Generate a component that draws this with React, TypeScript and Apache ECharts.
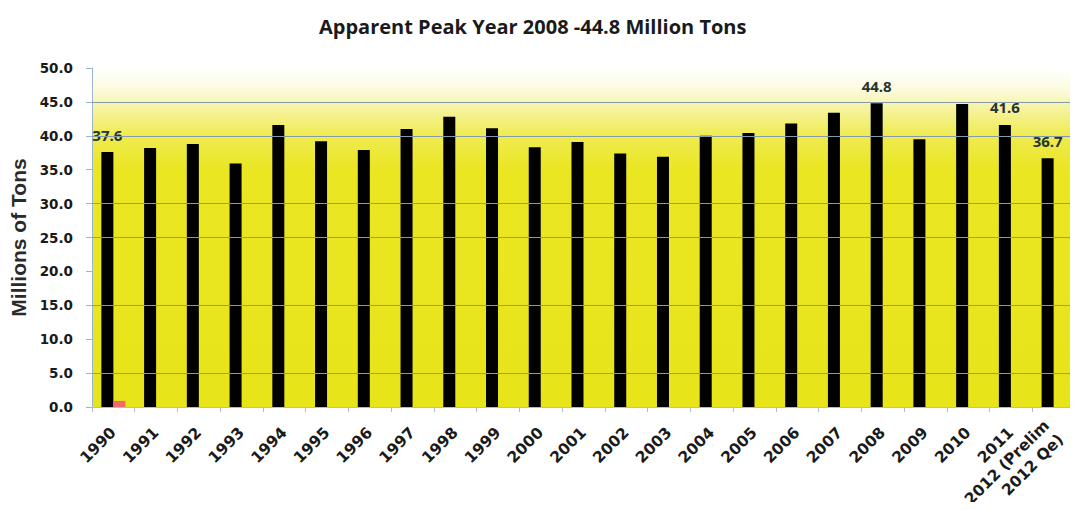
import React, { useEffect, useRef } from "react";
import * as echarts from "echarts";

const categories = [
  "1990", "1991", "1992", "1993", "1994", "1995", "1996", "1997", "1998", "1999",
  "2000", "2001", "2002", "2003", "2004", "2005", "2006", "2007", "2008", "2009",
  "2010", "2011", "2012 (Prelim\n2012 Qe)",
];
const tonnage = [
  37.6, 38.2, 38.8, 35.9, 41.6, 39.2, 37.9, 41.0, 42.8, 41.1,
  38.3, 39.1, 37.4, 36.9, 40.0, 40.4, 41.8, 43.4, 44.8, 39.5,
  44.7, 41.6, 36.7,
];
const secondary = [0.9, null, null, null, null, null, null, null, null, null, null, null, null, null, null, null, null, null, null, null, null, null, null];
const labelledYears = ["1990", "2008", "2011", "2012 (Prelim\n2012 Qe)"];
const gridValues = [5, 15, 25, 30, 40, 45];

export default function App() {
  const ref = useRef<HTMLDivElement>(null);
  useEffect(() => {
    if (!ref.current) return;
    const chart = echarts.init(ref.current, null, { renderer: "svg" });
    chart.setOption({
      animation: false,
      backgroundColor: "#ffffff",
      title: {
        text: "Apparent Peak Year 2008 -44.8 Million Tons",
        left: 314,
        top: 11,
        textStyle: { fontFamily: "Open Sans", fontWeight: "bold", fontSize: 20, color: "#1a1a1a" },
      },
      grid: {
        left: 92,
        right: 3,
        top: 68,
        bottom: 103,
        outerBoundsMode: "none",
        containLabel: false,
        show: true,
        borderWidth: 0,
        backgroundColor: new echarts.graphic.LinearGradient(0, 0, 0, 1, [
          { offset: 0, color: "#ffffff" },
          { offset: 0.06, color: "#fcfbe0" },
          { offset: 0.12, color: "#f6f3a0" },
          { offset: 0.2, color: "#efeb50" },
          { offset: 0.3, color: "#eae622" },
          { offset: 1, color: "#e8e41a" },
        ]),
      },
      xAxis: {
        type: "category",
        data: categories,
        axisLine: { show: true, lineStyle: { color: "#a9c0d6", width: 1 } },
        axisTick: { show: true, length: 5, lineStyle: { color: "#a9c0d6" } },
        axisLabel: {
          interval: 0,
          rotate: 45,
          margin: 23,
          fontFamily: "DejaVu Sans",
          fontWeight: "bold",
          fontSize: 15.5,
          color: "#1a1a1a",
          lineHeight: 20,
        },
        splitLine: { show: false },
      },
      yAxis: {
        type: "value",
        min: 0,
        max: 50,
        interval: 5,
        name: "Millions of Tons",
        nameLocation: "middle",
        nameRotate: 90,
        nameGap: 60,
        nameTextStyle: { fontFamily: "Liberation Sans", fontWeight: "bold", fontSize: 21, color: "#2a2a2a" },
        axisLine: { show: true, lineStyle: { color: "#9bb5cc", width: 1 } },
        axisTick: { show: true, length: 6, lineStyle: { color: "#9bb5cc" } },
        axisLabel: {
          margin: 19,
          formatter: (v: number) => v.toFixed(1),
          fontFamily: "DejaVu Sans",
          fontWeight: "bold",
          fontSize: 13.5,
          color: "#1a1a1a",
        },
        splitLine: { show: false },
      },
      series: [
        {
          type: "bar",
          name: "Apparent",
          barWidth: 12,
          barGap: "0%",
          itemStyle: { color: "#000000" },
          data: tonnage.map((v, i) => ({
            value: v,
            label: {
              show: labelledYears.includes(categories[i]),
            },
          })),
          label: {
            show: false,
            position: "top",
            distance: 10,
            formatter: (p: any) => Number(p.value).toFixed(1),
            fontFamily: "Open Sans",
            fontWeight: "bold",
            fontSize: 15,
            color: "#263434",
          },
          markLine: {
            silent: true,
            symbol: "none",
            label: { show: false },
            lineStyle: { type: "solid", color: "#8499aa", width: 1 },
            data: gridValues.map((v) => ({ yAxis: v })),
          },
          z: 3,
        },
        {
          type: "bar",
          name: "Other",
          barWidth: 12,
          barGap: "0%",
          itemStyle: { color: "#ef6b6b" },
          data: secondary,
          z: 3,
        },
      ],
    });
    return () => chart.dispose();
  }, []);
  return <div ref={ref} style={{ width: 1078, height: 510, margin: -8 }} />;
}
